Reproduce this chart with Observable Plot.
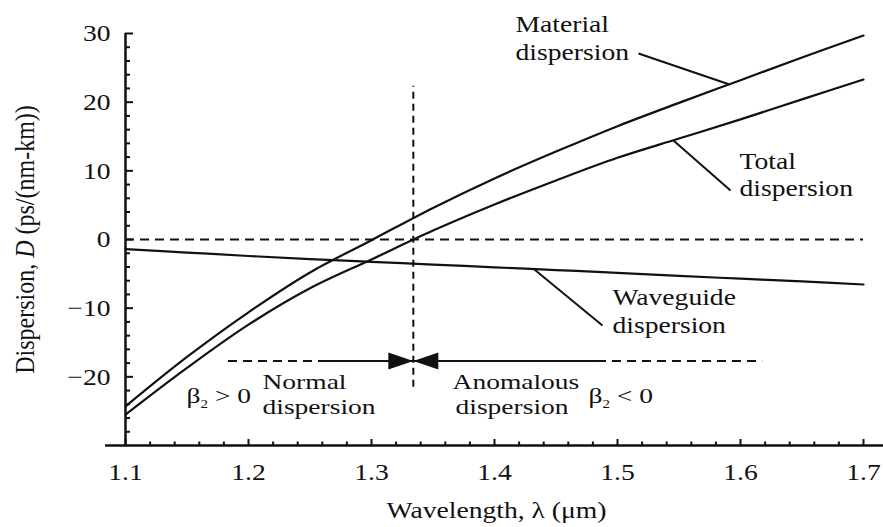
<!DOCTYPE html>
<html>
<head>
<meta charset="utf-8">
<script src="https://cdn.jsdelivr.net/npm/d3@7"></script>
<script src="https://cdn.jsdelivr.net/npm/@observablehq/plot@0.6"></script>
<style>
  html, body { margin: 0; padding: 0; background: #fff; }
  #chart svg { display: block; }
</style>
</head>
<body>
<div id="chart"></div>
<script>
// ---- data ----
const wavelengths = [1.10, 1.15, 1.20, 1.25, 1.30, 1.35, 1.40, 1.45, 1.50, 1.55, 1.60, 1.65, 1.70];
const materialDispersion = [-24.3, -17.1, -10.6, -4.8, -0.1, 4.6, 8.9, 12.8, 16.5, 19.9, 23.2, 26.5, 29.7];
const totalDispersion = [-25.5, -18.7, -12.4, -7.1, -2.9, 1.3, 5.1, 8.6, 11.9, 14.7, 17.5, 20.4, 23.3];
const waveguideDispersion = [-1.4, -1.9, -2.4, -2.85, -3.25, -3.65, -4.05, -4.45, -4.85, -5.3, -5.7, -6.1, -6.55];

const xTicks = [1.1, 1.2, 1.3, 1.4, 1.5, 1.6, 1.7];
const xMinorTicks = [1.12, 1.14, 1.16, 1.18, 1.22, 1.24, 1.26, 1.28, 1.32, 1.34, 1.36, 1.38,
  1.42, 1.44, 1.46, 1.48, 1.52, 1.54, 1.56, 1.58, 1.62, 1.64, 1.66, 1.68];
const yTicks = [-20, -10, 0, 10, 20, 30];
const yMinorTicks = [-28, -26, -24, -22, -18, -16, -14, -12, -8, -6, -4, -2, 2, 4, 6, 8,
  12, 14, 16, 18, 22, 24, 26, 28];
const xDomain = [1.1, 1.7];
const yDomain = [-30, 30];

const zeroDispersionWavelength = 1.334;
const regionArrowLevel = -17.7;
const regionDashed = [[1.1837, 1.261], [1.4837, 1.618]];
const regionSolid = [[1.261, 1.4837]];
const verticalMarker = {y1: -21.5, y2: 22.3};

const curveLabels = [
  {text: "Material", x: 1.4171, y: 30.15},
  {text: "dispersion", x: 1.4171, y: 26.07},
  {text: "Total", x: 1.5992, y: 10.3},
  {text: "dispersion", x: 1.5992, y: 6.35},
  {text: "Waveguide", x: 1.4959, y: -9.55},
  {text: "dispersion", x: 1.4959, y: -13.6}
];
const regionLabels = [
  {text: "Normal", x: 1.2114, y: -21.7},
  {text: "dispersion", x: 1.2114, y: -25.35},
  {text: "Anomalous", x: 1.3659, y: -21.7},
  {text: "dispersion", x: 1.3683, y: -25.35},
  {text: "β2 > 0", x: 1.1496, y: -23.74},
  {text: "β2 < 0", x: 1.4764, y: -23.88}
];
const leaders = [
  {x1: 1.5171, y1: 27.09, x2: 1.5911, y2: 22.57},
  {x1: 1.5455, y1: 14.4, x2: 1.5919, y2: 7.14},
  {x1: 1.4317, y1: -4.25, x2: 1.4878, y2: -12.52}
];

// ---- build table ----
const rows = [];
wavelengths.forEach((w, i) => {
  rows.push({series: "Material", wavelength: w, D: materialDispersion[i]});
  rows.push({series: "Total", wavelength: w, D: totalDispersion[i]});
  rows.push({series: "Waveguide", wavelength: w, D: waveguideDispersion[i]});
});

// arrowhead symbols (tip at anchor point)
const headRight = {draw(ctx, size) { const L = 2 * Math.sqrt(size / Math.PI), w = L * 0.34;
  ctx.moveTo(0, 0); ctx.lineTo(-L, -w); ctx.lineTo(-L, w); ctx.closePath(); }};
const headLeft = {draw(ctx, size) { const L = 2 * Math.sqrt(size / Math.PI), w = L * 0.34;
  ctx.moveTo(0, 0); ctx.lineTo(L, -w); ctx.lineTo(L, w); ctx.closePath(); }};

const ink = "#111";
const dash = "9,6";

const chart = Plot.plot({
  width: 883,
  height: 527,
  marginLeft: 125,
  marginRight: 20,
  marginTop: 33,
  marginBottom: 82,
  x: {domain: xDomain},
  y: {domain: yDomain},
  style: {fontFamily: "'Liberation Serif', 'Times New Roman', serif", fontSize: "24px",
          background: "#fff", color: ink, overflow: "visible"},
  marks: [
    // reference dashed lines
    Plot.ruleY([0], {x1: xDomain[0], x2: xDomain[1], strokeWidth: 2, strokeDasharray: dash}),
    Plot.ruleX([zeroDispersionWavelength], {y1: verticalMarker.y1, y2: verticalMarker.y2, strokeWidth: 2, strokeDasharray: "7,5"}),
    Plot.ruleY(regionDashed, {x1: d => d[0], x2: d => d[1], y: () => regionArrowLevel, strokeWidth: 2, strokeDasharray: dash}),
    Plot.ruleY(regionSolid, {x1: d => d[0], x2: d => d[1], y: () => regionArrowLevel, strokeWidth: 2}),
    Plot.dot([zeroDispersionWavelength], {x: d => d, y: () => regionArrowLevel, symbol: headRight, r: 12.5, fill: ink, stroke: "none"}),
    Plot.dot([zeroDispersionWavelength], {x: d => d, y: () => regionArrowLevel, symbol: headLeft, r: 12.5, fill: ink, stroke: "none"}),

    // curves
    Plot.line(rows, {x: "wavelength", y: "D", z: "series", curve: "catmull-rom", stroke: ink, strokeWidth: 2.2}),

    // leader lines
    Plot.link(leaders, {x1: "x1", y1: "y1", x2: "x2", y2: "y2", stroke: ink, strokeWidth: 2}),

    // axes lines
    Plot.ruleX([xDomain[0]], {y1: yDomain[0], y2: yDomain[1], strokeWidth: 2.5, stroke: ink}),
    Plot.ruleY([yDomain[0]], {x1: xDomain[0], x2: xDomain[1], insetLeft: -20, insetRight: -20, strokeWidth: 2.5, stroke: ink}),

    // inward ticks
    Plot.ruleX(xTicks, {y1: () => yDomain[0], y2: () => yDomain[0], insetTop: -6, strokeWidth: 2, stroke: ink}),
    Plot.ruleX(xMinorTicks, {y1: () => yDomain[0], y2: () => yDomain[0], insetTop: -3.5, strokeWidth: 2, stroke: ink}),
    Plot.ruleY(yTicks, {x1: () => xDomain[0], x2: () => xDomain[0], insetRight: -8, strokeWidth: 2, stroke: ink}),
    Plot.ruleY(yMinorTicks, {x1: () => xDomain[0], x2: () => xDomain[0], insetRight: -5, strokeWidth: 2, stroke: ink}),

    // tick labels
    Plot.axisX(xTicks, {tickSize: 0, tickPadding: 17, tickFormat: d => d.toFixed(1), label: null, fontSize: 24}),
    Plot.axisY(yTicks, {tickSize: 0, tickPadding: 15, label: null, fontSize: 24}),

    // axis titles
    Plot.text(["Wavelength, λ (μm)"], {frameAnchor: "bottom", textAnchor: "middle", lineAnchor: "middle", dy: 65, dx: 2, fontSize: 24}),
    Plot.text(["Dispersion, D (ps/(nm-km))"], {frameAnchor: "left", textAnchor: "middle", lineAnchor: "middle", rotate: -90, dx: -100, fontSize: 24}),

    // annotations
    Plot.text(curveLabels, {x: "x", y: "y", text: "text", textAnchor: "start", lineAnchor: "bottom", fontSize: 24, fill: ink}),
    Plot.text(regionLabels, {x: "x", y: "y", text: "text", textAnchor: "start", lineAnchor: "bottom", fontSize: 22, fill: ink})
  ]
});

// rich text: italic D, subscript 2
const NS = "http://www.w3.org/2000/svg";
function span(parent, str, attrs) {
  const s = document.createElementNS(NS, "tspan");
  s.textContent = str;
  for (const k in (attrs || {})) s.setAttribute(k, attrs[k]);
  parent.appendChild(s);
}
chart.querySelectorAll("text").forEach(t => {
  const s = t.textContent;
  if (s.startsWith("Dispersion, D")) {
    t.textContent = "";
    span(t, "Dispersion, ");
    span(t, "D", {"font-style": "italic"});
    span(t, " (ps/(nm-km))");
  } else if (s.startsWith("β2")) {
    const rest = s.slice(2);
    t.textContent = "";
    span(t, "β");
    span(t, "2", {"font-size": "12px", dy: "5"});
    span(t, rest, {dy: "-5"});
  }
});

// the reference type is slightly wide: stretch glyphs horizontally around each anchor
document.body.appendChild(chart);
chart.querySelectorAll("text").forEach(t => {
  const fs = parseFloat(getComputedStyle(t).fontSize);
  const SX = fs <= 22 ? 1.25 : 1.15;
  let tr = t.getAttribute("transform");
  if (!tr) {
    const x = t.getAttribute("x") || 0, y = t.getAttribute("y") || 0;
    t.removeAttribute("x"); t.removeAttribute("y");
    tr = `translate(${x},${y})`;
  }
  t.setAttribute("transform", tr + (/rotate/.test(tr) ? ` scale(1,${SX})` : ` scale(${SX},1)`));
});

document.getElementById("chart").appendChild(chart);
</script>
</body>
</html>
